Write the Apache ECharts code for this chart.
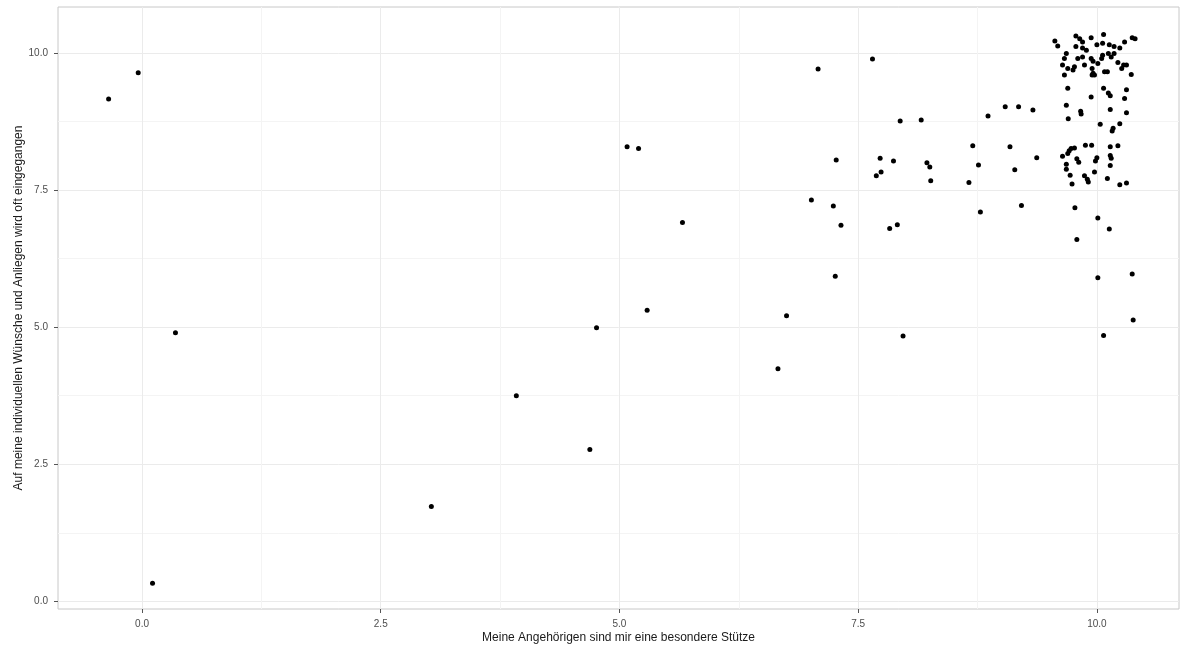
<!DOCTYPE html>
<html>
<head>
<meta charset="utf-8">
<script src="https://cdn.jsdelivr.net/npm/echarts@6/dist/echarts.min.js"></script>
<style>
html,body{margin:0;padding:0;background:#fff;}
#chart{width:1181px;height:651px;}
</style>
</head>
<body>
<div id="chart"></div>
<script>
// X: "Meine Angehörigen sind mir eine besondere Stütze"
const xVals = [
 -0.35,-0.04,0.35,0.11,3.03,3.92,4.69,4.76,5.08,5.20,5.29,5.66,6.66,6.75,7.01,7.08,7.24,7.26,7.27,7.32,
 7.65,7.69,7.73,7.74,7.83,7.87,7.91,7.94,7.97,8.16,8.22,8.25,8.26,8.66,8.70,8.76,8.78,8.86,9.04,9.09,
 9.14,9.18,9.21,9.33,9.37,
 9.64,9.68,9.68,9.695,9.71,9.72,9.73,9.74,9.765,9.79,9.81,9.87,9.88,9.90,9.91,9.945,9.975,9.985,10.00,
 10.11,10.14,10.14,10.14,10.15,10.22,10.24,10.31,
 9.77,9.79,10.01,10.13,10.01,10.37,10.38,10.07,
 9.695,9.68,9.70,9.83,9.835,9.94,10.035,10.07,10.12,10.14,10.14,10.16,10.17,10.24,10.29,10.31,10.31,
 9.56,9.59,9.78,9.82,9.85,9.94,10.07,9.78,9.85,9.89,10.00,10.06,10.13,10.18,10.24,10.29,10.37,10.40,
 9.68,9.66,9.64,9.695,9.66,9.75,9.765,9.80,9.85,9.87,9.94,9.96,9.95,9.96,9.975,9.95,10.01,10.05,10.06,
 10.08,10.11,10.12,10.15,10.18,10.22,10.26,10.28,10.31,10.36
];
// Y: "Auf meine individuellen Wünsche und Anliegen wird oft eingegangen"
const yVals = [
 9.16,9.64,4.90,0.33,1.73,3.75,2.77,4.99,8.29,8.26,5.31,6.91,4.24,5.21,7.32,9.71,7.21,5.93,8.05,6.86,
 9.89,7.76,8.08,7.83,6.80,8.03,6.87,8.76,4.84,8.78,8.00,7.92,7.67,7.64,8.31,7.96,7.10,8.85,9.02,8.29,
 7.87,9.02,7.22,8.96,8.09,
 8.12,7.97,7.88,8.17,8.22,7.77,8.26,7.61,8.27,8.07,8.01,7.76,8.32,7.70,7.65,8.32,7.83,8.03,8.09,
 7.71,7.95,8.29,8.13,8.08,8.31,7.60,7.63,
 7.18,6.60,6.99,6.79,5.90,5.97,5.13,4.85,
 9.36,9.05,8.80,8.94,8.89,9.20,8.70,9.36,9.27,9.22,8.97,8.58,8.63,8.71,9.17,9.33,8.91,
 10.22,10.13,10.31,10.26,10.20,10.28,10.34,10.12,10.09,10.05,10.15,10.18,10.15,10.12,10.09,10.20,10.28,10.26,
 9.99,9.90,9.78,9.72,9.60,9.69,9.75,9.90,9.93,9.78,9.90,9.85,9.72,9.63,9.60,9.60,9.81,9.90,9.96,
 9.66,9.66,9.99,9.93,9.99,9.83,9.72,9.78,9.78,9.61
];
const majorTicks = [0, 2.5, 5, 7.5, 10];
const minorTicks = [1.25, 3.75, 6.25, 8.75];
const xTitle = 'Meine Angehörigen sind mir eine besondere Stütze';
const yTitle = 'Auf meine individuellen Wünsche und Anliegen wird oft eingegangen';

const points = xVals.map((x, i) => [x, yVals[i]]);
const fmt = v => v.toFixed(1);
const FONT = '"Liberation Sans", Arial, sans-serif';

const xRange = {min: -0.88, max: 10.86};
const yRange = {min: -0.14, max: 10.84};

function axisPair(dim, range) {
  const isX = dim === 'x';
  const main = {
    type: 'value', min: range.min, max: range.max,
    position: isX ? 'bottom' : 'left',
    axisLine: {show: false, onZero: false},
    axisTick: {show: true, customValues: majorTicks, length: 4, lineStyle: {color: '#555', width: 1}},
    axisLabel: {show: true, customValues: majorTicks, formatter: fmt, color: '#4d4d4d', fontSize: 10,
                fontFamily: FONT, margin: 10},
    splitLine: {show: true, lineStyle: {color: '#ebebeb', width: 1}},
    name: isX ? xTitle : yTitle,
    nameLocation: 'middle',
    nameGap: isX ? 23 : 33,
    nameMoveOverlap: false,
    nameTextStyle: {color: '#1a1a1a', fontSize: 12, fontFamily: FONT}
  };
  const minor = {
    type: 'value', min: range.min, max: range.max,
    position: isX ? 'bottom' : 'left',
    axisLine: {show: false, onZero: false},
    axisTick: {show: false, customValues: minorTicks},
    axisLabel: {show: false, customValues: minorTicks},
    splitLine: {show: true, lineStyle: {color: '#f4f4f4', width: 1}}
  };
  return [main, minor];
}

const chart = echarts.init(document.getElementById('chart'), null, {renderer: 'canvas'});
chart.setOption({
  animation: false,
  backgroundColor: '#ffffff',
  grid: {left: 58, top: 7, right: 2, bottom: 42, show: true, borderColor: '#c8c8c8', borderWidth: 1,
         backgroundColor: '#ffffff', containLabel: false, outerBoundsMode: 'none'},
  xAxis: axisPair('x', xRange),
  yAxis: axisPair('y', yRange),
  series: [{
    type: 'scatter',
    xAxisIndex: 0, yAxisIndex: 0,
    data: points,
    symbol: 'circle',
    symbolSize: 5,
    itemStyle: {color: '#000000', opacity: 1},
    z: 5
  }]
});
</script>
</body>
</html>
